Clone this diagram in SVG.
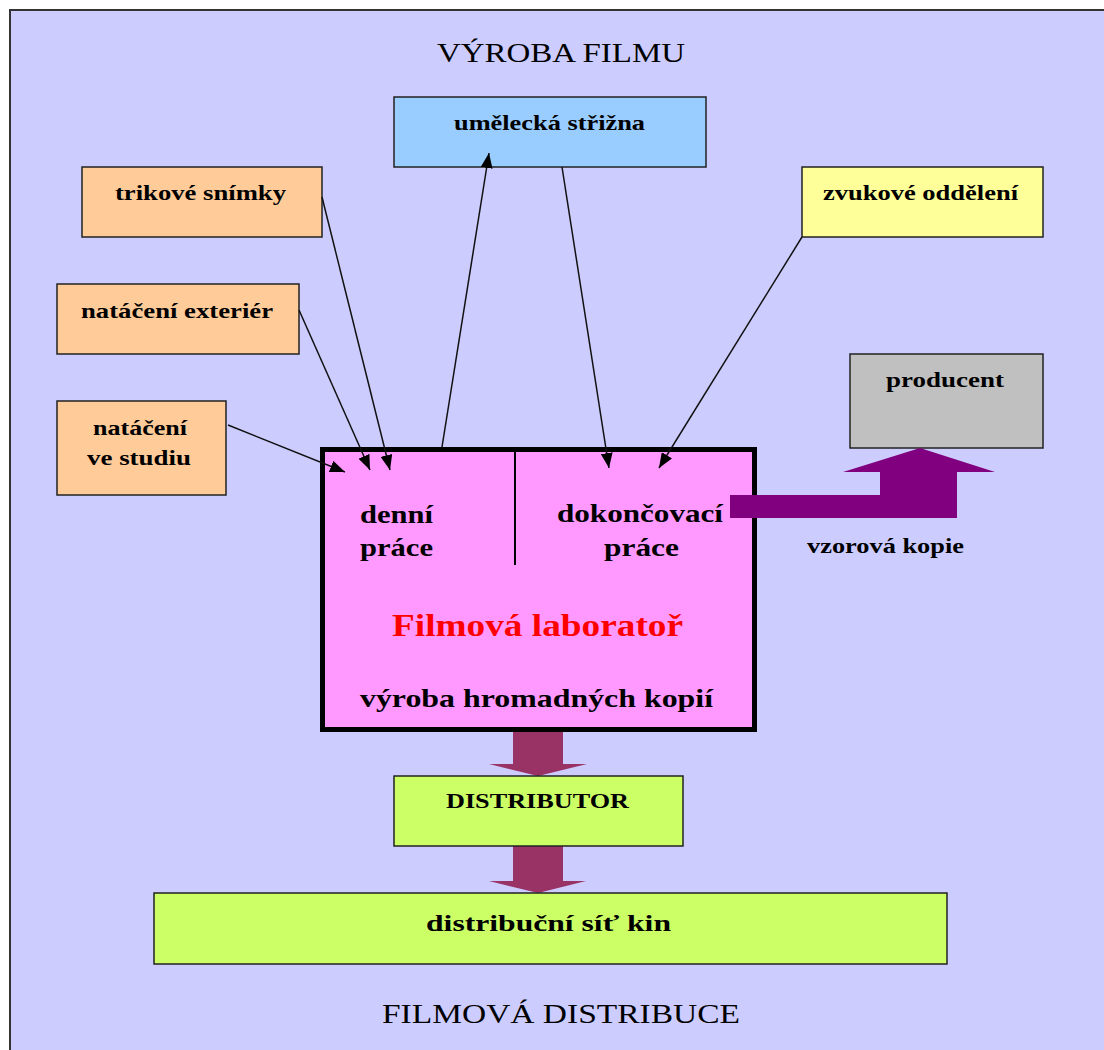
<svg xmlns="http://www.w3.org/2000/svg" width="1104" height="1050" viewBox="0 0 1104 1050">
<style>
text{font-family:"Liberation Serif","Times New Roman",serif;fill:#000;}
.b{font-weight:bold;}
.s{font-size:22px;}
.m{font-size:26px;}
.t{font-size:28px;}
.box{stroke:#222;stroke-width:1.5;}
.con{stroke:#111;stroke-width:1.5;fill:none;marker-end:url(#ah);}
</style>
<defs>
<marker id="ah" markerUnits="userSpaceOnUse" markerWidth="16" markerHeight="12" refX="15" refY="6" orient="auto">
<path d="M0,0 L15,6 L0,12 z" fill="#000"/>
</marker>
</defs>
<rect x="10" y="10" width="1110" height="1060" fill="#CCCCFF" stroke="#333" stroke-width="2"/>
<text class="t" x="437" y="62" textLength="248" lengthAdjust="spacingAndGlyphs">VÝROBA FILMU</text>
<text class="t" x="382" y="1023" textLength="358" lengthAdjust="spacingAndGlyphs">FILMOVÁ DISTRIBUCE</text>

<g id="strizna">
<rect class="box" x="394" y="97" width="312" height="70" fill="#99CCFF"/>
<text class="b s" x="454" y="130" textLength="191" lengthAdjust="spacingAndGlyphs">umělecká střižna</text>
</g>
<g id="trikove">
<rect class="box" x="82" y="167" width="240" height="70" fill="#FFCC99"/>
<text class="b s" x="115" y="200" textLength="171" lengthAdjust="spacingAndGlyphs">trikové snímky</text>
</g>
<g id="zvukove">
<rect class="box" x="802" y="167" width="241" height="70" fill="#FFFF99"/>
<text class="b s" x="823" y="200" textLength="195" lengthAdjust="spacingAndGlyphs">zvukové oddělení</text>
</g>
<g id="exterier">
<rect class="box" x="57" y="284" width="242" height="70" fill="#FFCC99"/>
<text class="b s" x="81" y="318" textLength="192" lengthAdjust="spacingAndGlyphs">natáčení exteriér</text>
</g>
<g id="studio">
<rect class="box" x="57" y="401" width="169" height="94" fill="#FFCC99"/>
<text class="b s" x="93" y="435" textLength="94" lengthAdjust="spacingAndGlyphs">natáčení</text>
<text class="b s" x="87" y="465" textLength="104" lengthAdjust="spacingAndGlyphs">ve studiu</text>
</g>
<g id="producent">
<rect class="box" x="850" y="354" width="193" height="94" fill="#C0C0C0"/>
<text class="b s" x="886" y="387" textLength="118" lengthAdjust="spacingAndGlyphs">producent</text>
</g>

<g id="laborator">
<rect x="322.5" y="449.5" width="432" height="280" fill="#FF99FF" stroke="#000" stroke-width="5"/>
<line x1="515" y1="452" x2="515" y2="565" stroke="#000" stroke-width="2"/>
<text class="b m" x="360" y="523" textLength="73" lengthAdjust="spacingAndGlyphs">denní</text>
<text class="b m" x="360" y="556" textLength="73" lengthAdjust="spacingAndGlyphs">práce</text>
<text class="b m" x="557" y="522" textLength="166" lengthAdjust="spacingAndGlyphs">dokončovací</text>
<text class="b m" x="604" y="556" textLength="75" lengthAdjust="spacingAndGlyphs">práce</text>
<text class="b" x="392" y="636" font-size="32" textLength="291" lengthAdjust="spacingAndGlyphs" style="fill:#FF0000">Filmová laboratoř</text>
<text class="b m" x="360" y="707" textLength="353" lengthAdjust="spacingAndGlyphs">výroba hromadných kopií</text>
</g>

<g id="connectors">
<line class="con" x1="228" y1="425" x2="345" y2="472"/>
<line class="con" x1="299" y1="310" x2="370" y2="470"/>
<line class="con" x1="322" y1="197" x2="390" y2="470"/>
<line class="con" x1="442" y1="447" x2="489" y2="153"/>
<line class="con" x1="562" y1="167" x2="609" y2="468"/>
<line class="con" x1="802" y1="237" x2="659" y2="468"/>
<polygon points="730,495 880,495 880,472 843,472 920,448 995,472 957,472 957,518 730,518" fill="#800080"/>
<polygon points="513,732 563,732 563,764 587,764 538,776 489,764 513,764" fill="#993366"/>
<polygon points="513,846 563,846 563,881 586,881 538,893 489,881 513,881" fill="#993366"/>
</g>
<text class="b s" x="807" y="553" textLength="157" lengthAdjust="spacingAndGlyphs">vzorová kopie</text>

<g id="distributor">
<rect class="box" x="394" y="776" width="289" height="70" fill="#CCFF66"/>
<text class="b s" x="446" y="808" textLength="183" lengthAdjust="spacingAndGlyphs">DISTRIBUTOR</text>
</g>
<g id="sit-kin">
<rect class="box" x="154" y="893" width="793" height="71" fill="#CCFF66"/>
<text class="b" x="426" y="931" font-size="24" textLength="245" lengthAdjust="spacingAndGlyphs">distribuční síť kin</text>
</g>
</svg>
